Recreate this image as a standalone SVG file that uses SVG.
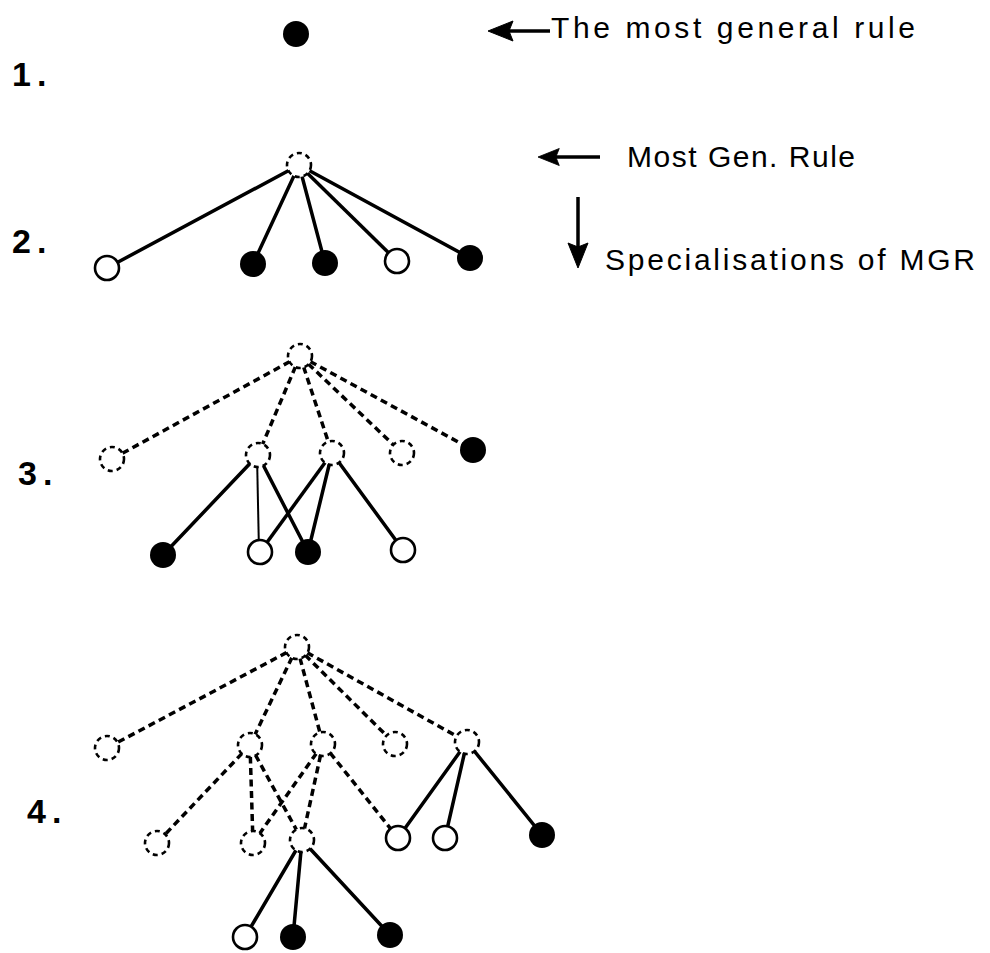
<svg xmlns="http://www.w3.org/2000/svg" width="990" height="953" viewBox="0 0 990 953">
<style>
.bg{fill:#fff}
.e{stroke:#000;stroke-width:3.5;fill:none;stroke-linecap:round}
.et{stroke:#000;stroke-width:2;fill:none}
.ed{stroke:#000;stroke-width:3.5;fill:none;stroke-dasharray:7 4.5}
.nf{fill:#000}
.no{fill:#fff;stroke:#000;stroke-width:2.6}
.nd{fill:#fff;stroke:#000;stroke-width:2.6;stroke-dasharray:5 4}
.num{font-family:"Liberation Sans",Arial,sans-serif;font-weight:bold;font-size:34px;letter-spacing:6px;fill:#000}
.lbl{font-family:"Liberation Sans",Arial,sans-serif;font-size:30px;fill:#000}
.arr{stroke:#000;stroke-width:3.5;fill:none}
.ahd{fill:#000;stroke:#000;stroke-width:1;stroke-linejoin:miter}
</style>
<defs>
<path id="ah" d="M0,0 L25,-10 L21,0 L25,10 Z"/>
</defs>
<rect class="bg" x="0" y="0" width="990" height="953"/>

<g id="labels">
<text class="num" x="12" y="86">1.</text>
<text class="num" x="12" y="253">2.</text>
<text class="num" x="18" y="485">3.</text>
<text class="num" x="27" y="823">4.</text>
<text class="lbl" x="551" y="38" font-size="31" textLength="364" lengthAdjust="spacing">The most general rule</text>
<text class="lbl" x="627" y="167" textLength="228" lengthAdjust="spacing">Most Gen. Rule</text>
<text class="lbl" x="605" y="270" textLength="370" lengthAdjust="spacing">Specialisations of MGR</text>
<line class="arr" x1="505" y1="31" x2="550" y2="31"/>
<use href="#ah" class="ahd" transform="translate(488,31)"/>
<line class="arr" x1="554" y1="157" x2="600" y2="157"/>
<use href="#ah" class="ahd" transform="translate(538,157) scale(0.85)"/>
<line class="arr" x1="578" y1="197" x2="578" y2="250"/>
<use href="#ah" class="ahd" transform="translate(578,268) rotate(-90)"/>
</g>

<g id="connectors">
<!-- section 2 -->
<line class="e" x1="299" y1="165" x2="107" y2="268"/>
<line class="e" x1="299" y1="165" x2="253" y2="264"/>
<line class="e" x1="299" y1="165" x2="325" y2="263"/>
<line class="e" x1="299" y1="165" x2="397" y2="261"/>
<line class="e" x1="299" y1="165" x2="470" y2="258"/>
<!-- section 3 -->
<line class="ed" x1="300" y1="356" x2="112" y2="459"/>
<line class="ed" x1="300" y1="356" x2="258" y2="455"/>
<line class="ed" x1="300" y1="356" x2="332" y2="453"/>
<line class="ed" x1="300" y1="356" x2="402" y2="453"/>
<line class="ed" x1="300" y1="356" x2="473" y2="450"/>
<line class="e" x1="258" y1="455" x2="163" y2="555"/>
<line class="et" x1="257" y1="455" x2="259" y2="552"/>
<line class="e" x1="258" y1="455" x2="308" y2="552"/>
<line class="e" x1="332" y1="453" x2="260" y2="552"/>
<line class="e" x1="332" y1="453" x2="308" y2="552"/>
<line class="e" x1="332" y1="453" x2="403" y2="550"/>
<!-- section 4 -->
<line class="ed" x1="297" y1="647" x2="107" y2="748"/>
<line class="ed" x1="297" y1="647" x2="250" y2="745"/>
<line class="ed" x1="297" y1="647" x2="323" y2="744"/>
<line class="ed" x1="297" y1="647" x2="395" y2="744"/>
<line class="ed" x1="297" y1="647" x2="467" y2="742"/>
<line class="ed" x1="250" y1="745" x2="157" y2="843"/>
<line class="ed" x1="250" y1="745" x2="253" y2="843"/>
<line class="ed" x1="250" y1="745" x2="302" y2="840"/>
<line class="ed" x1="323" y1="744" x2="253" y2="843"/>
<line class="ed" x1="323" y1="744" x2="302" y2="840"/>
<line class="ed" x1="323" y1="744" x2="398" y2="838"/>
<line class="e" x1="467" y1="742" x2="398" y2="838"/>
<line class="e" x1="467" y1="742" x2="445" y2="838"/>
<line class="e" x1="467" y1="742" x2="542" y2="835"/>
<line class="e" x1="302" y1="840" x2="245" y2="937"/>
<line class="e" x1="302" y1="840" x2="293" y2="937"/>
<line class="e" x1="302" y1="840" x2="390" y2="935"/>
</g>

<g id="n1"><circle class="nf" cx="296" cy="34" r="13"/></g>

<g id="n2-root"><circle class="nd" cx="299" cy="165" r="12"/></g>
<g id="n2-a"><circle class="no" cx="107" cy="268" r="12"/></g>
<g id="n2-b"><circle class="nf" cx="253" cy="264" r="13"/></g>
<g id="n2-c"><circle class="nf" cx="325" cy="263" r="13"/></g>
<g id="n2-d"><circle class="no" cx="397" cy="261" r="12"/></g>
<g id="n2-e"><circle class="nf" cx="470" cy="258" r="13"/></g>

<g id="n3-root"><circle class="nd" cx="300" cy="356" r="12"/></g>
<g id="n3-a"><circle class="nd" cx="112" cy="459" r="12"/></g>
<g id="n3-b"><circle class="nd" cx="258" cy="455" r="12"/></g>
<g id="n3-c"><circle class="nd" cx="332" cy="453" r="12"/></g>
<g id="n3-d"><circle class="nd" cx="402" cy="453" r="12"/></g>
<g id="n3-e"><circle class="nf" cx="473" cy="450" r="13"/></g>
<g id="n3-f"><circle class="nf" cx="163" cy="555" r="13"/></g>
<g id="n3-g"><circle class="no" cx="260" cy="552" r="12"/></g>
<g id="n3-h"><circle class="nf" cx="308" cy="552" r="13"/></g>
<g id="n3-i"><circle class="no" cx="403" cy="550" r="12"/></g>

<g id="n4-root"><circle class="nd" cx="297" cy="647" r="12"/></g>
<g id="n4-a"><circle class="nd" cx="107" cy="748" r="12"/></g>
<g id="n4-b"><circle class="nd" cx="250" cy="745" r="12"/></g>
<g id="n4-c"><circle class="nd" cx="323" cy="744" r="12"/></g>
<g id="n4-d"><circle class="nd" cx="395" cy="744" r="12"/></g>
<g id="n4-e"><circle class="nd" cx="467" cy="742" r="12"/></g>
<g id="n4-f"><circle class="nd" cx="157" cy="843" r="12"/></g>
<g id="n4-g"><circle class="nd" cx="253" cy="843" r="12"/></g>
<g id="n4-h"><circle class="nd" cx="302" cy="840" r="12"/></g>
<g id="n4-i"><circle class="no" cx="398" cy="838" r="12"/></g>
<g id="n4-j"><circle class="no" cx="445" cy="838" r="12"/></g>
<g id="n4-k"><circle class="nf" cx="542" cy="835" r="13"/></g>
<g id="n4-l"><circle class="no" cx="245" cy="937" r="12"/></g>
<g id="n4-m"><circle class="nf" cx="293" cy="937" r="13"/></g>
<g id="n4-n"><circle class="nf" cx="390" cy="935" r="13"/></g>
</svg>
